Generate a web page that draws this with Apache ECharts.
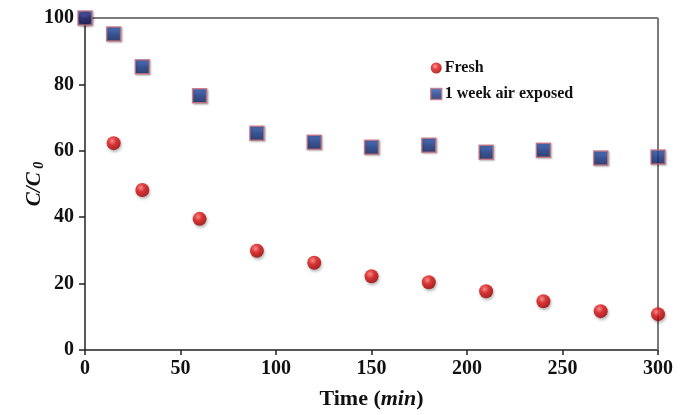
<!DOCTYPE html>
<html><head><meta charset="utf-8">
<script src="https://cdn.jsdelivr.net/npm/echarts@6/dist/echarts.min.js"></script>
<style>html,body{margin:0;padding:0;background:#fff}#c{width:685px;height:415px}</style>
</head><body><div id="c"></div>
<script>
const times = [0, 15, 30, 60, 90, 120, 150, 180, 210, 240, 270, 300];
const fresh = [100, 62.3, 48.2, 39.5, 29.9, 26.3, 22.2, 20.4, 17.7, 14.7, 11.7, 10.8];
const exposed = [100, 95.2, 85.3, 76.6, 65.3, 62.6, 61.1, 61.7, 59.6, 60.2, 57.8, 58.1];
const xTicks = [0, 50, 100, 150, 200, 250, 300];
const yTicks = [0, 20, 40, 60, 80, 100];

const font = 'Liberation Serif';
const chart = echarts.init(document.getElementById('c'));
const redBall = {type:'radial', x:0.4, y:0.35, r:0.65, colorStops:[{offset:0,color:'#ff8080'},{offset:0.45,color:'#e01010'},{offset:1,color:'#a00000'}]};
const blueSq = {type:'linear', x:0, y:0, x2:0, y2:1, colorStops:[{offset:0,color:'#3060c0'},{offset:0.5,color:'#163888'},{offset:1,color:'#0a1f5a'}]};
chart.setOption({
  animation:false,
  grid:{left:85, right:27, top:18, bottom:63, show:false},
  legend:{
    orient:'vertical', left:425, top:55, itemGap:10, itemWidth:11, itemHeight:11,
    textStyle:{fontFamily:font, fontWeight:'bold', fontSize:16, color:'#111', padding:[0,0,0,-2]},
    data:[{name:'Fresh', icon:'circle', itemStyle:{color:redBall, shadowBlur:0, borderWidth:0}},
          {name:'1 week air exposed', icon:'rect', itemStyle:{color:blueSq, borderColor:'#c87080', borderWidth:1.5, shadowBlur:0}}]
  },
  xAxis:{
    type:'value', min:0, max:300, interval:50,
    name:'{a|Time (}{b|min}{a|)}', nameLocation:'middle', nameGap:38, nameMoveOverlap:false,
    nameTextStyle:{rich:{a:{fontFamily:font,fontWeight:'bold',fontSize:22,color:'#111'},b:{fontFamily:font,fontWeight:'bold',fontStyle:'italic',fontSize:22,color:'#111'}}},
    axisLine:{show:true, lineStyle:{color:'#222', width:1.5}},
    axisTick:{show:true, inside:false, length:5, lineStyle:{color:'#222', width:1.5}},
    axisLabel:{fontFamily:font, fontWeight:'bold', fontSize:20, color:'#111', margin:9, formatter:v=>xTicks.includes(v)?String(v):''},
    splitLine:{show:false}
  },
  yAxis:{
    type:'value', min:0, max:100, interval:20,
    name:'{a|C/C}{s| 0}', nameLocation:'middle', nameGap:39, nameRotate:90, nameMoveOverlap:false,
    nameTextStyle:{padding:[0,0,0,0], rich:{a:{fontFamily:font,fontWeight:'bold',fontStyle:'italic',fontSize:21,color:'#111'},s:{fontFamily:font,fontWeight:'bold',fontStyle:'italic',fontSize:14,color:'#111',verticalAlign:'bottom',padding:[9,0,0,0]}}},
    axisLine:{show:true, lineStyle:{color:'#222', width:1.5}},
    axisTick:{show:true, inside:false, length:6, lineStyle:{color:'#222', width:1.5}},
    axisLabel:{fontFamily:font, fontWeight:'bold', fontSize:20, color:'#111', margin:11, formatter:v=>yTicks.includes(v)?String(v):''},
    splitLine:{show:false}
  },
  series:[
    {type:'line', data:[[0,100],[300,100]], symbol:'none', lineStyle:{color:'#7a7a7a', width:2}, silent:true, z:1},
    {type:'line', data:[[300,0],[300,100]], symbol:'none', lineStyle:{color:'#7a7a7a', width:2}, silent:true, z:1},
    {name:'Fresh', type:'scatter', data:times.map((t,i)=>[t,fresh[i]]), symbol:'circle', symbolSize:14, z:3,
     itemStyle:{color:redBall, shadowColor:'rgba(0,0,0,0.35)', shadowBlur:3, shadowOffsetX:1, shadowOffsetY:2}},
    {name:'1 week air exposed', type:'scatter', data:times.map((t,i)=>[t,exposed[i]]), symbol:'rect', symbolSize:14, z:4,
     itemStyle:{color:blueSq, borderColor:'#c87080', borderWidth:1.5, shadowColor:'rgba(0,0,0,0.3)', shadowBlur:2, shadowOffsetX:1, shadowOffsetY:1}}
  ]
});
</script></body></html>
